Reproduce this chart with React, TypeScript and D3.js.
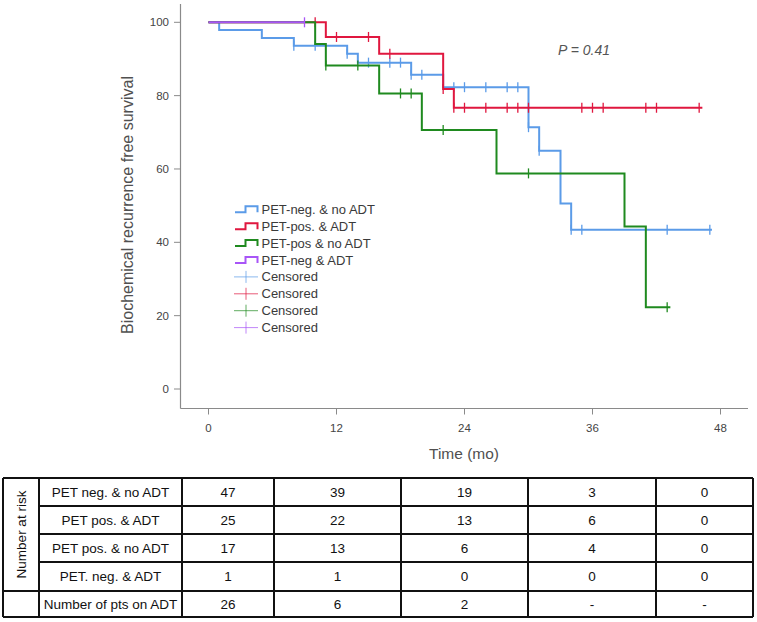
import React from "react";
import * as d3 from "d3";

// ---- Kaplan-Meier data (time in months, survival in %) ----
const blueTimes = [0, 1, 5, 8, 13, 14, 19, 22, 30, 31, 33, 34];
const blueSurv = [100, 97.9, 95.7, 93.6, 91.4, 89.0, 85.7, 82.3, 71.4, 65.0, 50.6, 43.4];
const blueEnd = 47.2;
const blueCensor = [8, 10, 13, 15, 17, 18, 19, 20, 23, 24, 26, 28, 29, 30, 31, 34, 35, 43, 47];

const redTimes = [0, 11, 16, 22, 23];
const redSurv = [100, 96.0, 91.4, 81.8, 76.7];
const redEnd = 46.3;
const redCensor = [10, 12, 15, 17, 22, 23, 24, 26, 28, 29, 30, 35, 36, 37, 41, 42, 46];

const greenTimes = [0, 10, 11, 16, 20, 27, 39, 41];
const greenSurv = [100, 94.1, 88.2, 80.6, 70.6, 58.8, 44.3, 22.3];
const greenEnd = 43.3;
const greenCensor = [11, 14, 18, 19, 22, 30, 43];

const purpleTimes = [0];
const purpleSurv = [100];
const purpleEnd = 9;
const purpleCensor = [9];

const seriesNames = ["PET-neg. & no ADT", "PET-pos. & ADT", "PET-pos & no ADT", "PET-neg & ADT"];
const seriesColors = ["#5b9be8", "#e0173f", "#1f8a1f", "#a855f7"];

const xTicks = [0, 12, 24, 36, 48];
const yTicks = [0, 20, 40, 60, 80, 100];

// ---- Number at risk table ----
const tableRowLabels = ["PET neg. & no ADT", "PET pos. & ADT", "PET pos. & no ADT", "PET. neg. & ADT", "Number of pts on ADT"];
const tableValues = [
  ["47", "39", "19", "3", "0"],
  ["25", "22", "13", "6", "0"],
  ["17", "13", "6", "4", "0"],
  ["1", "1", "0", "0", "0"],
  ["26", "6", "2", "-", "-"],
];

const W = 757;
const H = 622;

export default function App() {
  const x = d3.scaleLinear().domain([0, 48]).range([208.5, 720.5]);
  const y = d3.scaleLinear().domain([0, 100]).range([389, 22.3]);

  const series = [
    { times: blueTimes, surv: blueSurv, end: blueEnd, censor: blueCensor, color: seriesColors[0] },
    { times: redTimes, surv: redSurv, end: redEnd, censor: redCensor, color: seriesColors[1] },
    { times: greenTimes, surv: greenSurv, end: greenEnd, censor: greenCensor, color: seriesColors[2] },
    { times: purpleTimes, surv: purpleSurv, end: purpleEnd, censor: purpleCensor, color: seriesColors[3] },
  ];

  const line = d3
    .line<[number, number]>()
    .x((d) => x(d[0]))
    .y((d) => y(d[1]))
    .curve(d3.curveStepAfter);

  const valueAt = (s: any, t: number) => {
    let v = s.surv[0];
    for (let i = 0; i < s.times.length; i++) if (s.times[i] <= t) v = s.surv[i];
    return v;
  };

  const axisColor = "#8a8a8a";
  const textGray = "#505050";
  const tickFont = "'Liberation Sans Narrow', 'Liberation Sans', Arial, sans-serif";
  const font = "'Liberation Sans', Arial, sans-serif";

  // table geometry
  const colX = [3, 39, 182, 274, 401, 528, 656, 753];
  const rowY = [478, 506, 534, 562, 591, 617];

  const legendY0 = 209.3;
  const legendStep = 16.9;

  return (
    <svg
      width={W}
      height={H}
      style={{ position: "absolute", left: 0, top: 0, background: "#fff" }}
      fontFamily={font}
    >
      <rect x={0} y={0} width={W} height={H} fill="#fff" />
      {/* axes */}
      <line x1={180.5} x2={180.5} y1={4} y2={408.5} stroke={axisColor} strokeWidth={1.2} />
      <line x1={180.5} x2={748} y1={408.5} y2={408.5} stroke={axisColor} strokeWidth={1.2} />
      {yTicks.map((t) => (
        <g key={"yt" + t}>
          <line x1={174} x2={180.5} y1={y(t)} y2={y(t)} stroke={axisColor} strokeWidth={1} />
          <text
            x={169}
            y={y(t)}
            textAnchor="end"
            dominantBaseline="central"
            fontSize={11.5}
            fontFamily={tickFont}
            fill="#444"
          >
            {t}
          </text>
        </g>
      ))}
      {xTicks.map((t) => (
        <g key={"xt" + t}>
          <line x1={x(t)} x2={x(t)} y1={408.5} y2={414.5} stroke={axisColor} strokeWidth={1} />
          <text
            x={x(t)}
            y={428}
            textAnchor="middle"
            dominantBaseline="central"
            fontSize={11.5}
            fontFamily={tickFont}
            fill="#444"
          >
            {t}
          </text>
        </g>
      ))}
      <text
        transform={`translate(127,205) rotate(-90)`}
        textAnchor="middle"
        dominantBaseline="central"
        fontSize={16}
        fill={textGray}
      >
        Biochemical recurrence free survival
      </text>
      <text x={464} y={453} textAnchor="middle" dominantBaseline="central" fontSize={15.5} fill={textGray}>
        Time (mo)
      </text>

      {/* curves */}
      {series.map((s, i) => {
        const pts: [number, number][] = s.times.map((t: number, k: number) => [t, s.surv[k]] as [number, number]);
        pts.push([s.end, s.surv[s.surv.length - 1]]);
        return (
          <g key={"s" + i}>
            <path d={line(pts) || ""} fill="none" stroke={s.color} strokeWidth={2} />
            {s.censor.map((c: number, k: number) => (
              <line
                key={k}
                x1={x(c)}
                x2={x(c)}
                y1={y(valueAt(s, c)) - 5}
                y2={y(valueAt(s, c)) + 5}
                stroke={s.color}
                strokeWidth={1.3}
              />
            ))}
          </g>
        );
      })}

      <text x={558} y={50} dominantBaseline="central" fontSize={14} fontStyle="italic" fill="#555">
        P = 0.41
      </text>

      {/* legend */}
      {seriesNames.map((name, i) => {
        const ly = legendY0 + i * legendStep;
        return (
          <g key={"lg" + i}>
            <path
              d={`M235,${ly + 3} H245.5 V${ly - 3} H257.5 V${ly + 3}`}
              fill="none"
              stroke={seriesColors[i]}
              strokeWidth={2}
            />
            <text x={261.5} y={ly} dominantBaseline="central" fontSize={13} fill="#3a3a3a">
              {name}
            </text>
          </g>
        );
      })}
      {seriesColors.map((c, i) => {
        const ly = legendY0 + (i + 4) * legendStep;
        return (
          <g key={"lc" + i}>
            <line x1={234} x2={258} y1={ly} y2={ly} stroke={c} strokeWidth={1} opacity={0.7} />
            <line x1={246} x2={246} y1={ly - 6} y2={ly + 6} stroke={c} strokeWidth={1} opacity={0.7} />
            <text x={261.5} y={ly} dominantBaseline="central" fontSize={13} fill="#3a3a3a">
              Censored
            </text>
          </g>
        );
      })}

      {/* table */}
      <g stroke="#111" strokeWidth={2} fill="none">
        <line x1={colX[0]} x2={colX[colX.length - 1]} y1={rowY[0]} y2={rowY[0]} />
        {rowY.slice(1, 4).map((ry, i) => (
          <line key={"hr" + i} x1={colX[1]} x2={colX[colX.length - 1]} y1={ry} y2={ry} />
        ))}
        <line x1={colX[0]} x2={colX[colX.length - 1]} y1={rowY[4]} y2={rowY[4]} />
        <line x1={colX[0]} x2={colX[colX.length - 1]} y1={rowY[5]} y2={rowY[5]} />
        {colX.map((cx, i) => (
          <line key={"vc" + i} x1={cx} x2={cx} y1={rowY[0]} y2={rowY[5]} />
        ))}
      </g>
      <text
        transform={`translate(21,${(rowY[0] + rowY[4]) / 2}) rotate(-90)`}
        textAnchor="middle"
        dominantBaseline="central"
        fontSize={13.5}
        fill="#111"
      >
        Number at risk
      </text>
      {tableRowLabels.map((lab, r) => {
        const cy = (rowY[r] + rowY[r + 1]) / 2;
        return (
          <g key={"tr" + r}>
            <text x={(colX[1] + colX[2]) / 2} y={cy} textAnchor="middle" dominantBaseline="central" fontSize={13.5} fill="#111">
              {lab}
            </text>
            {tableValues[r].map((v, c) => (
              <text
                key={c}
                x={(colX[c + 2] + colX[c + 3]) / 2}
                y={cy}
                textAnchor="middle"
                dominantBaseline="central"
                fontSize={13.5}
                fill="#111"
              >
                {v}
              </text>
            ))}
          </g>
        );
      })}
    </svg>
  );
}
